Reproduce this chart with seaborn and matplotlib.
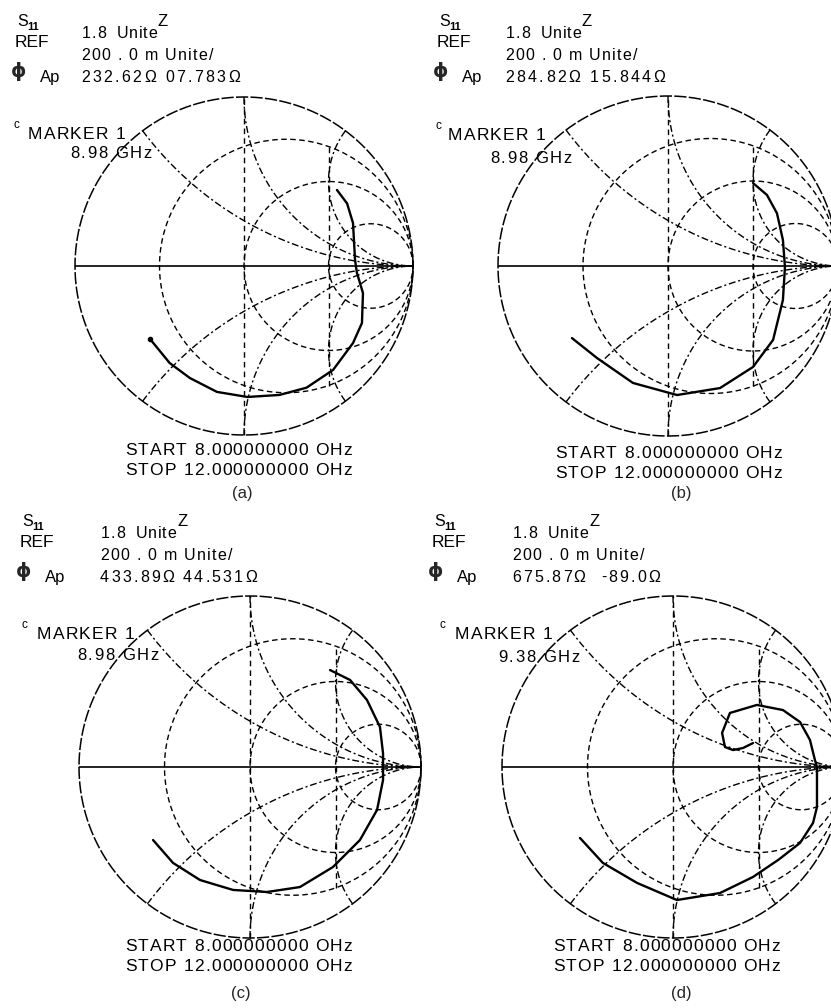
import numpy as np
import matplotlib
matplotlib.use("Agg")
import matplotlib.pyplot as plt
import seaborn as sns
from matplotlib import font_manager
from matplotlib.ft2font import FT2Font

# ---------------- data ----------------
panel_labels = ["(a)", "(b)", "(c)", "(d)"]
impedance_readouts = ["232.62\u03a9 07.783\u03a9", "284.82\u03a9 15.844\u03a9",
                      "433.89\u03a9 44.531\u03a9", "675.87\u03a9  -89.0\u03a9"]
marker_freqs = ["8.98 GHz", "8.98 GHz", "8.98 GHz", "9.38 GHz"]
ref_text = "1.8  Unite"
scale_text = "200 . 0 m Unite/"
start_text = "START 8.000000000 OHz"
stop_text = "STOP 12.000000000 OHz"

r_circles = [1 / 3, 1.0, 3.0]          # constant-resistance circles
x_arcs = [0.5, 1.0, 2.0, -0.5, -1.0, -2.0]  # constant-reactance arcs

trace_a_re = [-0.556, -0.44, -0.32, -0.16, 0.02, 0.21, 0.37, 0.527, 0.645, 0.698, 0.704, 0.686, 0.668, 0.657, 0.645, 0.61, 0.55]
trace_a_im = [-0.432, -0.574, -0.663, -0.745, -0.775, -0.763, -0.72, -0.615, -0.456, -0.337, -0.16, -0.1, -0.04, 0.036, 0.254, 0.37, 0.45]

trace_b_re = [-0.565, -0.418, -0.206, 0.053, 0.306, 0.5, 0.618, 0.676, 0.688, 0.676, 0.641, 0.582, 0.5]
trace_b_im = [-0.424, -0.541, -0.688, -0.759, -0.718, -0.594, -0.435, -0.2, -0.006, 0.153, 0.31, 0.418, 0.488]

trace_c_re = [-0.567, -0.45, -0.292, -0.099, 0.099, 0.292, 0.485, 0.643, 0.743, 0.778, 0.778, 0.76, 0.684, 0.585, 0.468]
trace_c_im = [-0.427, -0.561, -0.661, -0.719, -0.731, -0.702, -0.585, -0.427, -0.251, -0.076, 0.08, 0.234, 0.392, 0.509, 0.567]

trace_d_re = [-0.544, -0.41, -0.21, 0.023, 0.275, 0.468, 0.62, 0.743, 0.819, 0.842, 0.842, 0.83, 0.801, 0.743, 0.643, 0.491, 0.333, 0.287, 0.304, 0.351, 0.409, 0.468]
trace_d_im = [-0.415, -0.561, -0.678, -0.778, -0.737, -0.643, -0.54, -0.444, -0.327, -0.234, 0.0, 0.041, 0.158, 0.263, 0.333, 0.363, 0.316, 0.199, 0.117, 0.099, 0.111, 0.14]

traces_re = [trace_a_re, trace_b_re, trace_c_re, trace_d_re]
traces_im = [trace_a_im, trace_b_im, trace_c_im, trace_d_im]

# ---------------- layout (pixels) ----------------
W, H = 831, 1008
centers = [(244, 266, 169), (668, 266, 170), (250, 767, 171), (673, 767, 171)]
left_col = [15, 437, 20, 432]
head_col = [81, 505, 100, 512]
yoff = [0, 0, 500, 500]
marker_pos = [(14, 28, 70, 139, 158), (435, 448, 490, 140, 163),
              (22, 37, 77, 639, 660), (440, 455, 498, 639, 662)]
start_pos = [(125, 455, 475, 498, 242), (555, 458, 478, 498, 681),
             (125, 951, 971, 998, 241), (553, 951, 971, 998, 681)]

sns.set_theme(style="white")
plt.rcParams["font.family"] = ["Liberation Sans", "DejaVu Sans"]

fig = plt.figure(figsize=(W / 100, H / 100), dpi=100)
fig.patch.set_facecolor("white")

FAM = "Liberation Sans"
_font_path = font_manager.findfont(font_manager.FontProperties(family=FAM))


def spaced(x, y, s, size, width=None, track=0.0):
    ft = FT2Font(_font_path, hinting_factor=1)
    ft.set_size(size, 100)
    adv = []
    for ch in s:
        g = ft.load_char(ord(ch))
        adv.append(g.linearHoriAdvance / 65536.0)
    if width is not None and len(s) > 1:
        track = (width - sum(adv)) / (len(s) - 1)
    cx = x
    for ch, a in zip(s, adv):
        if ch != " ":
            fig.text(cx / W, 1 - y / H, ch, fontsize=size, family=FAM,
                     ha="left", va="baseline", color="black")
        cx += a + track


def txt(x, y, s, size, **kw):
    fig.text(x / W, 1 - y / H, s, fontsize=size, family=FAM,
             va="baseline", color="black", **kw)


h = 1.25
t = np.linspace(0, 2 * np.pi, 721)
rr = np.concatenate([[0.0], np.logspace(-3, 3.5, 600)])

for i in range(4):
    cx, cy, R = centers[i]
    ax = fig.add_axes([(cx - h * R) / W, (H - cy - h * R) / H, 2 * h * R / W, 2 * h * R / H])
    ax.set_xlim(-h, h)
    ax.set_ylim(-h, h)
    ax.axis("off")

    # outer circle
    ax.plot(np.cos(t), np.sin(t), color="black", lw=1.1, dashes=(8, 1.5))
    # resistance circles
    for r in r_circles:
        c = r / (1 + r)
        rad = 1 / (1 + r)
        ax.plot(c + rad * np.cos(t), rad * np.sin(t), color="black", lw=1.0, dashes=(4, 2.5))
    # reactance arcs
    for xv in x_arcs:
        z = rr + 1j * xv
        g = (z - 1) / (z + 1)
        ax.plot(g.real, g.imag, color="black", lw=1.0, dashes=(5, 2, 1.5, 2))
    # vertical guides
    ax.plot([0, 0], [-1, 1], color="black", lw=1.0, dashes=(4, 3))
    yy = np.sqrt(0.75 ** 2 - 0.25 ** 2)
    ax.plot([0.5, 0.5], [-yy, yy], color="black", lw=1.0, dashes=(4, 3))
    # real axis
    ax.plot([-1, 1], [0, 0], color="black", lw=1.2, solid_capstyle="butt")

    # measured trace
    sns.lineplot(x=traces_re[i], y=traces_im[i], sort=False, estimator=None,
                 color="black", lw=1.7, ax=ax)
    for ln in ax.get_lines()[-1:]:
        ln.set_solid_joinstyle("round")
    if i == 0:
        ax.plot(traces_re[i][0], traces_im[i][0], "o", color="black", ms=3)

    # ---- header texts ----
    lc, hc, dy = left_col[i], head_col[i], yoff[i]
    txt(lc + 2, 26 + dy, "S", 11.5)
    txt(lc + 12, 30 + dy, "11", 8, weight="bold")
    txt(lc, 47 + dy, "REF", 12.5)
    fig.text((lc + 4) / W, 1 - (77 + dy) / H, "\u03d5", fontsize=14, family="DejaVu Sans",
             weight="bold", ha="center", va="baseline")
    txt(lc + 25, 82 + dy, "Ap", 12)
    spaced(hc + 1, 38 + dy, ref_text, 11.5, width=75)
    txt(hc + 77, 26 + dy, "Z", 12)
    spaced(hc, 60 + dy, scale_text, 11.5, width=132)
    wv = [159, 160, 157, 148][i]
    spaced(hc, 82 + dy, impedance_readouts[i], 11.5, width=wv)

    mc, mx1, mx2, my1, my2 = marker_pos[i]
    txt(mc, my1 - 11, "c", 8.5)
    spaced(mx1, my1, "MARKER 1", 12.5, width=97)
    spaced(mx2, my2, marker_freqs[i], 12, width=82)

    sx, sy1, sy2, ly, lx = start_pos[i]
    spaced(sx, sy1, start_text, 12.5, width=227)
    spaced(sx, sy2, stop_text, 12.5, width=227)
    fig.text(lx / W, 1 - ly / H, panel_labels[i], fontsize=12, family=FAM,
             ha="center", va="baseline")

fig.savefig("out.png", dpi=100, facecolor="white")
